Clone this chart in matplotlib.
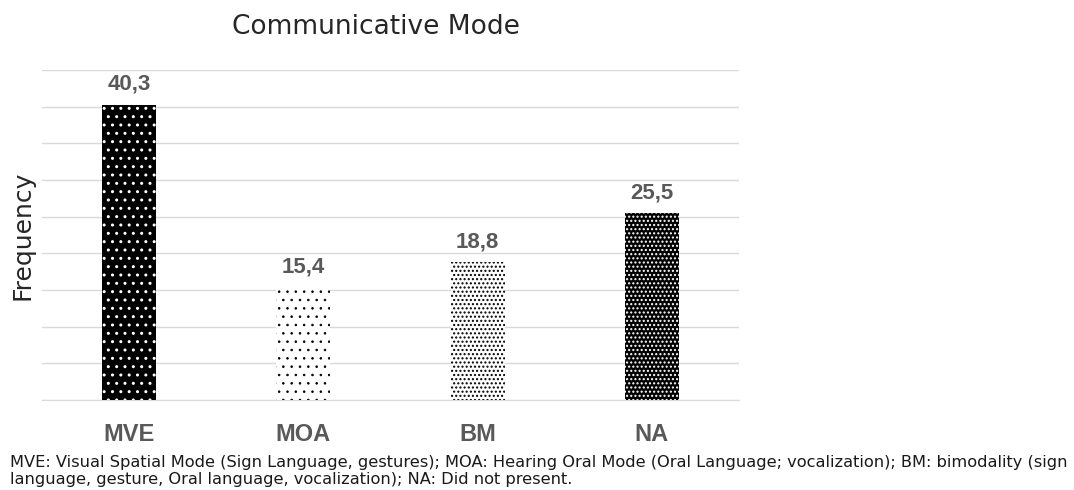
import matplotlib.pyplot as plt

categories = ['MVE', 'MOA', 'BM', 'NA']
freq = [40.3, 15.4, 18.8, 25.5]
labels = ['40,3', '15,4', '18,8', '25,5']

# fill / hatch colour / hatch pattern for each bar
faces = ['black', 'white', 'white', 'black']
dots = ['white', 'black', 'black', 'white']
hatches = ['..', '..', '....', '....']
hatch_lw = [1.0, 0.6, 1.0, 1.0]

plt.rcParams['font.family'] = 'DejaVu Sans'

fig = plt.figure(figsize=(10.74, 4.90), dpi=100)
ax = fig.add_axes([0.039, 0.184, 0.649, 0.673])

x = range(len(categories))
for i in x:
    plt.rcParams['hatch.linewidth'] = hatch_lw[i]
    ax.bar(i, freq[i], width=0.31, color=faces[i], edgecolor=dots[i],
           hatch=hatches[i], linewidth=0, zorder=3)
    ax.text(i, freq[i] + 1.3, labels[i], ha='center', va='bottom',
            fontsize=16, fontweight='bold', color='#595959',
            family='Liberation Sans')

ax.set_xlim(-0.5, 3.5)
ax.set_ylim(0, 45)
ax.set_yticks(range(0, 46, 5))
ax.set_yticklabels([])
ax.tick_params(axis='y', length=0)
ax.grid(axis='y', color='#d9d9d9', linewidth=1, zorder=0)
ax.set_xticks(list(x))
ax.set_xticklabels(categories, fontsize=17, fontweight='bold', color='#595959',
                   family='Liberation Sans')
ax.tick_params(axis='x', length=0, pad=17)
for s in ['top', 'right', 'left']:
    ax.spines[s].set_visible(False)
ax.spines['bottom'].set_color('#d9d9d9')

ax.set_ylabel('Frequency', fontsize=18, color='#262626')
ax.yaxis.set_label_coords(-0.011, 0.5)
fig.text(0.350, 0.945, 'Communicative Mode', fontsize=19, color='#262626',
         ha='center', va='center')

fig.text(0.009, 0.039,
         'MVE: Visual Spatial Mode (Sign Language, gestures); MOA: Hearing Oral Mode (Oral Language; vocalization); BM: bimodality (sign\n'
         'language, gesture, Oral language, vocalization); NA: Did not present.',
         fontsize=11.7, va='center', ha='left', linespacing=1.2, color='#1a1a1a')

fig.savefig('out.png', dpi=100)
